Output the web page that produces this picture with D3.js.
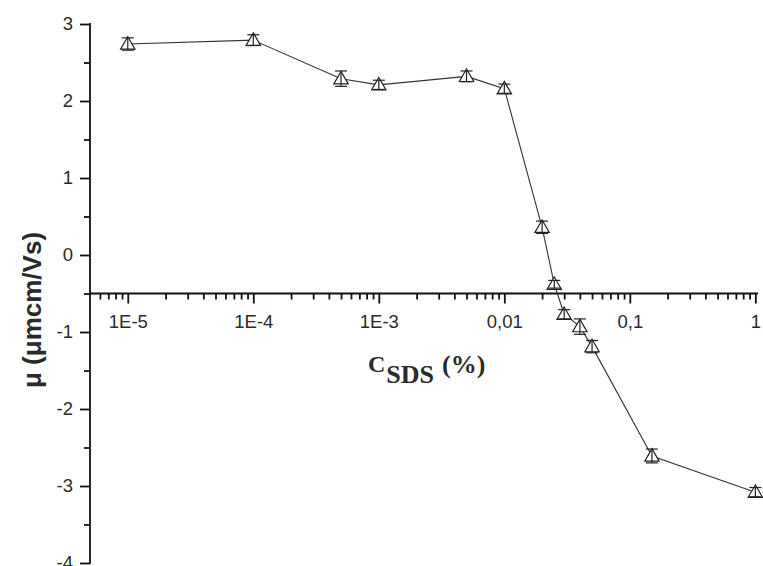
<!DOCTYPE html>
<html>
<head>
<meta charset="utf-8">
<script src="https://cdn.jsdelivr.net/npm/d3@7"></script>
<style>
  body { margin: 0; background: #fff; }
  svg { display: block; }
</style>
</head>
<body>
<svg id="chart" width="763" height="566"></svg>
<script>
// SDS concentration (%) and electrophoretic mobility (μmcm/Vs)
const concentration = [1e-5, 1e-4, 5e-4, 1e-3, 5e-3, 0.01, 0.02, 0.025, 0.03, 0.04, 0.05, 0.15, 1];
const mobility      = [2.74, 2.79, 2.29, 2.21, 2.32, 2.16, 0.36, -0.38, -0.77, -0.93, -1.19, -2.61, -3.08];
const mobilityError = [0.08, 0.07, 0.10, 0.06, 0.07, 0.06, 0.08, 0.05, 0.06, 0.10, 0.08, 0.09, 0.06];

const xTickValues = [1e-5, 1e-4, 1e-3, 0.01, 0.1, 1];
const xTickLabels = ["1E-5", "1E-4", "1E-3", "0,01", "0,1", "1"];
const yTickValues = [-4, -3, -2, -1, 0, 1, 2, 3];

const svg = d3.select("#chart");
const plotLeft = 90, plotRight = 758, plotTop = 24, plotBottom = 563;

const x = d3.scaleLog().domain([5e-6, 1.05]).range([plotLeft, plotRight]);
const y = d3.scaleLinear().domain([-4, 3]).range([plotBottom, plotTop]);

const axisFont = "Arial, 'Liberation Sans', sans-serif";
const labelColor = "#2a2a2a";

// minor ticks on the log axis: 2..9 × each decade within the domain
const xMinor = [];
for (let e = -6; e <= 0; e++) {
  for (let m = 2; m <= 9; m++) {
    const v = m * Math.pow(10, e);
    if (v >= x.domain()[0] && v <= x.domain()[1]) xMinor.push(v);
  }
}
const yMinor = d3.range(-3.5, 3, 1);

const xAxisY = y(-0.5);

// x axis crossing at μ = -0.5
const gx = svg.append("g").attr("transform", `translate(0,${xAxisY})`);
gx.call(d3.axisBottom(x).tickValues(xMinor).tickSize(6).tickFormat(""))
  .call(g => g.select(".domain").remove());
gx.append("g").call(d3.axisBottom(x).tickValues(xTickValues).tickSize(10).tickPadding(11)
    .tickFormat((d, i) => xTickLabels[i]))
  .call(g => g.select(".domain").remove());
gx.append("line").attr("x1", plotLeft).attr("x2", plotRight);
gx.selectAll("line").attr("stroke", "#111").attr("stroke-width", 1.8);
gx.selectAll("text").attr("font-family", axisFont).attr("font-size", 18.5).attr("fill", labelColor);

// y axis
const gy = svg.append("g").attr("transform", `translate(${plotLeft},0)`);
gy.call(d3.axisLeft(y).tickValues(yMinor).tickSize(6).tickFormat(""))
  .call(g => g.select(".domain").remove());
gy.append("g").call(d3.axisLeft(y).tickValues(yTickValues).tickSize(10).tickPadding(7)
    .tickFormat(d => String(d)))
  .call(g => g.select(".domain").remove());
gy.append("line").attr("y1", plotTop - 1).attr("y2", plotBottom + 1);
gy.selectAll("line").attr("stroke", "#111").attr("stroke-width", 1.8);
gy.selectAll("text").attr("font-family", axisFont).attr("font-size", 18.5).attr("fill", labelColor);

// connecting line
const pts = concentration.map((c, i) => ({ c, m: mobility[i], e: mobilityError[i] }));
svg.append("path")
  .datum(pts)
  .attr("fill", "none")
  .attr("stroke", "#333")
  .attr("stroke-width", 1.1)
  .attr("d", d3.line().x(d => x(d.c)).y(d => y(d.m)));

// open triangle markers
const tri = d3.symbol().type(d3.symbolTriangle).size(90);
svg.append("g").selectAll("path")
  .data(pts)
  .join("path")
  .attr("transform", d => `translate(${x(d.c)},${y(d.m) + 1})`)
  .attr("d", tri)
  .attr("fill", "#fff")
  .attr("stroke", "#222")
  .attr("stroke-width", 1.2);

// error bars with caps
const eb = svg.append("g").attr("stroke", "#222").attr("stroke-width", 1.2);
pts.forEach(d => {
  const cx = x(d.c), y1 = y(d.m + d.e), y2 = y(d.m - d.e);
  eb.append("line").attr("x1", cx).attr("x2", cx).attr("y1", y1).attr("y2", y2);
  eb.append("line").attr("x1", cx - 6).attr("x2", cx + 6).attr("y1", y1).attr("y2", y1);
  eb.append("line").attr("x1", cx - 6).attr("x2", cx + 6).attr("y1", y2).attr("y2", y2);
});

// axis titles
svg.append("text")
  .attr("transform", `translate(32,310) rotate(-90)`)
  .attr("text-anchor", "middle")
  .attr("dy", "0.35em")
  .attr("font-family", axisFont)
  .attr("font-weight", "bold")
  .attr("font-size", 26)
  .attr("fill", labelColor)
  .text("μ (μmcm/Vs)");

const xt = svg.append("text")
  .attr("x", 368).attr("y", 372)
  .attr("font-family", "'Liberation Serif', 'Times New Roman', serif")
  .attr("font-weight", "bold")
  .attr("font-size", 24)
  .attr("fill", labelColor);
xt.append("tspan").text("C");
xt.append("tspan").attr("dy", 11).attr("dx", 1).attr("font-size", 26).text("SDS");
xt.append("tspan").attr("dy", -10).attr("dx", 8).attr("font-size", 26).text("(%)");
</script>
</body>
</html>
